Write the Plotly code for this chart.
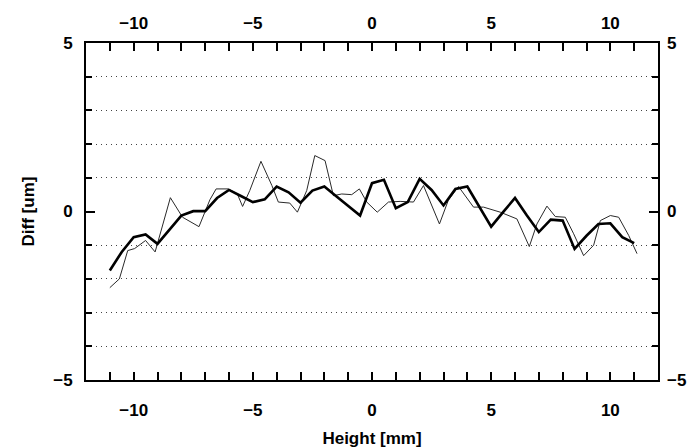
import plotly.graph_objects as go

# Thick series (0.5 mm steps)
x_thick = [-11, -10.5, -10, -9.5, -9, -8.5, -8, -7.5, -7, -6.5, -6, -5.5, -5, -4.5, -4,
           -3.5, -3, -2.5, -2, -1.5, -1, -0.5, 0, 0.5, 1, 1.5, 2, 2.5, 3, 3.5, 4,
           4.5, 5, 5.5, 6, 6.5, 7, 7.5, 8, 8.5, 9, 9.5, 10, 10.5, 11]
y_thick = [-1.75, -1.2, -0.76, -0.68, -0.96, -0.53, -0.12, 0.01, 0.01, 0.4, 0.64, 0.46, 0.28, 0.36, 0.74,
           0.57, 0.26, 0.62, 0.74, 0.45, 0.17, -0.12, 0.84, 0.94, 0.1, 0.28, 0.97, 0.64, 0.18, 0.67, 0.74,
           0.15, -0.45, -0.02, 0.4, -0.12, -0.61, -0.24, -0.27, -1.11, -0.72, -0.37, -0.35, -0.76, -0.94]

# Thin series
x_thin = [-11, -10.6, -10.25, -9.96, -9.5, -9.1, -8.46, -7.95, -7.26, -6.8, -6.54, -6.03, -5.65, -5.43,
          -5.13, -4.66, -4.2, -3.93, -3.45, -3.13, -2.74, -2.4, -1.97, -1.62, -1.27, -0.85, -0.53,
          -0.22, 0.22, 0.69, 1.18, 1.74, 2.16, 2.44, 2.83, 3.2, 3.63, 4.26, 4.68, 5.38, 6.08, 6.6,
          6.92, 7.34, 7.69, 8.11, 8.46, 8.88, 9.3, 9.58, 10.0, 10.35, 10.77, 11.12]
y_thin = [-2.26, -2.0, -1.16, -1.1, -0.86, -1.2, 0.41, -0.17, -0.45, 0.35, 0.67, 0.67, 0.52, 0.15,
          0.62, 1.49, 0.77, 0.28, 0.25, -0.02, 0.62, 1.66, 1.51, 0.47, 0.52, 0.5, 0.67,
          0.28, -0.02, 0.28, 0.3, 0.28, 0.77, 0.28, -0.37, 0.33, 0.74, 0.13, 0.13, -0.02, -0.22, -1.04,
          -0.37, 0.16, -0.15, -0.17, -0.66, -1.31, -1.0, -0.27, -0.12, -0.17, -0.71, -1.25]

x_tick_step = 5
y_tick_step = 5
y_grid_vals = [-4, -3, -2, -1, 1, 2, 3, 4]
x_title = "Height [mm]"
y_title = "Diff [um]"

font = dict(family="Liberation Sans, Arial, sans-serif", size=17, color="black", weight="bold")

fig = go.Figure()
fig.add_trace(go.Scatter(x=x_thin, y=y_thin, mode="lines",
                         line=dict(color="#2a2a2a", width=1), hoverinfo="skip"))
fig.add_trace(go.Scatter(x=x_thick, y=y_thick, mode="lines",
                         line=dict(color="black", width=2.6), hoverinfo="skip"))
fig.add_trace(go.Scatter(x=x_thick, y=y_thick, mode="lines", xaxis="x2", yaxis="y2",
                         opacity=0, hoverinfo="skip"))
fig.add_trace(go.Scatter(x=x_thick, y=y_thick, mode="lines", xaxis="x", yaxis="y3",
                         opacity=0, hoverinfo="skip"))

fig.update_layout(
    width=688, height=448,
    margin=dict(l=86, r=30, t=43, b=68, autoexpand=False),
    paper_bgcolor="white", plot_bgcolor="white",
    showlegend=False,
    xaxis=dict(range=[-12, 12], tick0=0, dtick=x_tick_step, side="bottom", automargin=False,
               ticks="inside", ticklen=8, tickwidth=2, tickcolor="black",
               showline=True, linecolor="black", linewidth=2, mirror="allticks",
               showgrid=False, zeroline=False, tickfont=font, ticklabelstandoff=14,
               minor=dict(dtick=1, ticks="inside", ticklen=4, tickwidth=1.5, tickcolor="black",
                          showgrid=False),
               title=dict(text=x_title, font=font, standoff=14)),
    xaxis2=dict(range=[-12, 12], tick0=0, dtick=x_tick_step, side="top", overlaying="x",
                anchor="y", ticks="", showline=False, showgrid=False, zeroline=False,
                automargin=False, tickfont=font, ticklabelstandoff=10),
    yaxis=dict(range=[-5, 5], tick0=0, dtick=y_tick_step, side="left", automargin=False,
               ticks="inside", ticklen=9, tickwidth=2, tickcolor="black",
               showline=True, linecolor="black", linewidth=2, mirror="allticks",
               showgrid=False, zeroline=False, tickfont=font, ticklabelstandoff=8,
               minor=dict(dtick=1, ticks="inside", ticklen=6, tickwidth=1.5, tickcolor="black",
                          showgrid=False),
               title=dict(text=y_title, font=font, standoff=14)),
    yaxis2=dict(range=[-5, 5], tick0=0, dtick=y_tick_step, side="right", overlaying="y",
                anchor="x", ticks="", showline=False, showgrid=False, zeroline=False,
                automargin=False, tickfont=font, ticklabelstandoff=8),
    yaxis3=dict(range=[-5, 5], tickvals=y_grid_vals, overlaying="y", side="left",
                showticklabels=False, ticks="", showline=False, zeroline=False, automargin=False,
                showgrid=True, gridcolor="#444444", griddash="1px,4px", gridwidth=1),
)

fig.write_html("out.html", config={"displayModeBar": False},
               post_script="document.body.style.margin='0';")
